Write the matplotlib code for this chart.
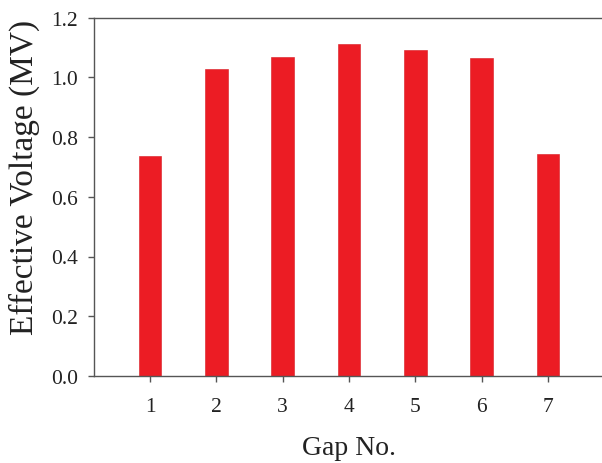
import matplotlib
matplotlib.use("Agg")
import matplotlib.pyplot as plt

gaps = [1, 2, 3, 4, 5, 6, 7]
voltages = [0.737, 1.029, 1.069, 1.110, 1.092, 1.063, 0.742]
yticks = [0.0, 0.2, 0.4, 0.6, 0.8, 1.0, 1.2]

plt.rcParams['font.family'] = ['Liberation Serif', 'DejaVu Serif']

fig = plt.figure(figsize=(6.02, 4.64), dpi=100)
ax = fig.add_axes([93.7/602, 1 - 377/464, (604.4 - 93.7)/602, (377 - 18.5)/464])

ax.bar(gaps, voltages, width=0.34, color='#EC1C24', edgecolor='#D81920', linewidth=0.4)

ax.set_xlim(0.15, 7.85)
ax.set_ylim(0, 1.2)
ax.set_xticks(gaps)
ax.set_yticks(yticks)
ax.set_yticklabels([f"{v:.1f}" for v in yticks])

for s in ['left', 'bottom', 'top']:
    ax.spines[s].set_color('#555555')
    ax.spines[s].set_linewidth(1.0)
ax.spines['right'].set_visible(False)

ax.tick_params(axis='both', direction='out', length=4.3, width=1.0, color='#555555',
               labelsize=15.5, labelcolor='#222222')
ax.tick_params(axis='x', pad=11)
ax.tick_params(axis='y', pad=7)

ax.set_xlabel('Gap No.', fontsize=20, color='#222222', va='center')
ax.xaxis.set_label_coords(0.5, -0.2)
ax.set_ylabel('Effective Voltage (MV)', fontsize=24, color='#222222', va='center')
ax.yaxis.set_label_coords(-0.1365, 0.5565)

fig.savefig('out.png', dpi=100)
